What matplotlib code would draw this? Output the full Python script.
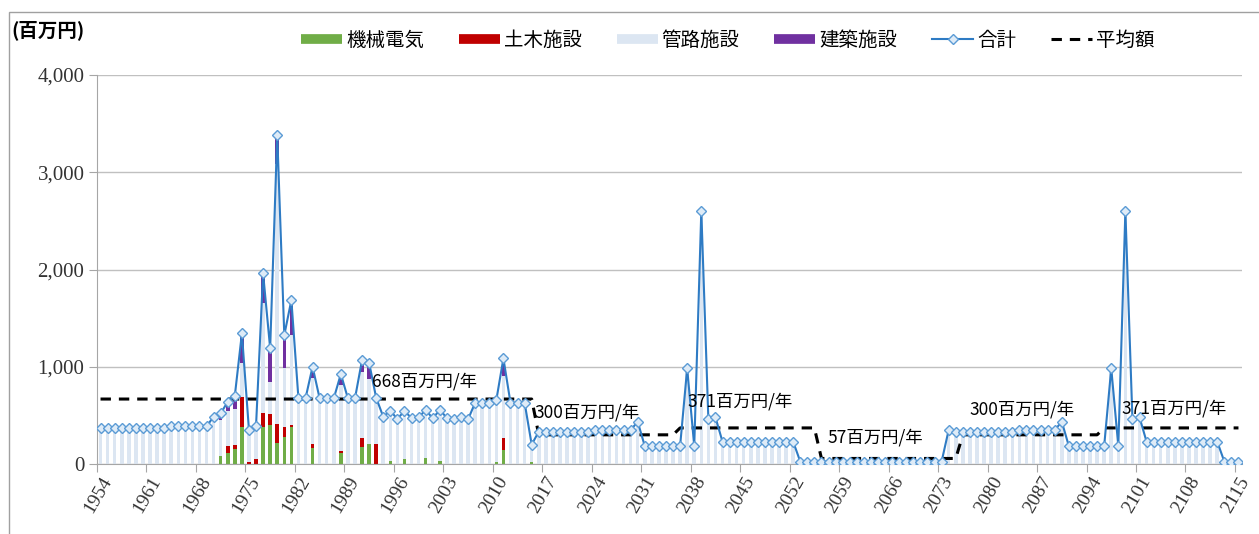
import matplotlib
matplotlib.use("Agg")
import matplotlib.pyplot as plt
import numpy as np
from matplotlib.lines import Line2D
from matplotlib.patches import Rectangle

plt.rcParams['font.family'] = ['Noto Sans CJK JP', 'DejaVu Sans']

years = np.arange(1954, 2116)

# 合計 (百万円)
total = ([373] * 10 + [388] * 6 +
         [486, 521, 640, 702, 1343, 349, 390, 1960, 1189, 3381, 1326, 1686,   # 1970-1981
          675, 675, 1000, 675, 675, 675, 925, 675, 675, 1069, 1041, 680,      # 1982-1993
          486, 548, 462, 548, 470, 480, 555, 470, 555, 475, 459, 480, 459,    # 1994-2006
          630, 630, 630, 658, 1086, 630, 630, 630, 200] +                     # 2007-2015
         [332] * 8 + [348] * 6 + [435] + [185] * 6 + [983, 185, 2600, 459, 480] +
         [229] * 11 + [25] * 21 + [350] + [332] * 9 + [348] * 6 + [435] +
         [185] * 6 + [983, 185, 2600, 459, 480] + [229] * 11 + [25] * 3)

mech = {1971: 80, 1972: 110, 1973: 150, 1974: 383, 1977: 383, 1978: 400,
        1979: 220, 1980: 281, 1981: 383, 1984: 160, 1988: 116, 1991: 171,
        1992: 202, 1995: 35, 1997: 48, 2000: 58, 2002: 35, 2010: 25,
        2011: 140, 2015: 20}
civil = {1972: 75, 1973: 45, 1974: 309, 1975: 20, 1976: 55, 1977: 144,
         1978: 111, 1979: 190, 1980: 102, 1981: 20, 1984: 45, 1988: 18,
         1991: 99, 1993: 202, 2011: 130}
building = {1971: 70, 1972: 100, 1973: 140, 1974: 300, 1977: 300, 1978: 343,
            1979: 300, 1980: 340, 1981: 360, 1984: 120, 1988: 115, 1991: 124,
            1992: 164, 2011: 186}

# 平均額 per period
avg_levels = [668, 300, 371, 57, 300, 371]
avg_starts = [1954, 2016, 2036, 2056, 2076, 2096]
avg_ends = [2015, 2035, 2055, 2075, 2095, 2115]
avg_text = [f"{v}百万円/年" for v in avg_levels]
avg_text_pos = [(38.4, 853), (61.4, 534), (83.1, 647), (102.9, 277), (123.0, 565), (144.5, 575)]


def by_year(d):
    return np.array([d.get(y, 0) for y in years], dtype=float)


total = np.array(total, dtype=float)
m = by_year(mech)
c = by_year(civil)
b = by_year(building)
pipe = total - m - c - b

avg = np.zeros(len(years))
for lv, s, e in zip(avg_levels, avg_starts, avg_ends):
    avg[(years >= s) & (years <= e)] = lv

W, H = 1259, 534
fig = plt.figure(figsize=(W / 100, H / 100), dpi=100)
ax = fig.add_axes([97 / W, 1 - 464 / H, (1242 - 97) / W, (464 - 75) / H])

x = np.arange(len(years))
bw = 0.5
ax.bar(x, m, width=bw, color='#70ad47', zorder=2)
ax.bar(x, c, width=bw, bottom=m, color='#c00000', zorder=2)
ax.bar(x, pipe, width=bw, bottom=m + c, color='#dce6f2', zorder=2)
ax.bar(x, b, width=bw, bottom=m + c + pipe, color='#7030a0', zorder=2)

ax.plot(x, avg, color='black', lw=2.2, dashes=(3.4, 2.6), zorder=3)
ax.plot(x, total, color='#2e7bc4', lw=1.5, marker='D', ms=4.6,
        mfc='#deebf7', mec='#5b9bd5', mew=1, zorder=4)

for txt, (tx, ty) in zip(avg_text, avg_text_pos):
    ax.text(tx, ty, txt, fontsize=12.5, ha='left', va='center', color='black', zorder=5)

ax.set_xlim(-0.5, len(years) - 0.5)
ax.set_ylim(0, 4000)
ax.set_yticks([0, 1000, 2000, 3000, 4000])
ax.set_yticklabels([f"{v:,}" for v in [0, 1000, 2000, 3000, 4000]],
                   family='Liberation Serif', fontsize=15, color='#333333')
ax.yaxis.grid(True, color='#c0c0c0', lw=1)
ax.set_axisbelow(True)

lab_idx = np.arange(0, len(years), 7)
ax.set_xticks(lab_idx - 0.5)
ax.set_xticklabels([])
ax.set_xticks(lab_idx, minor=True)
ax.set_xticklabels([str(years[i]) for i in lab_idx], minor=True, rotation=60,
                   ha='right', va='top', rotation_mode='anchor',
                   family='Liberation Serif', fontsize=14, color='#333333')
ax.tick_params(axis='x', which='major', length=6, color='#a6a6a6')
ax.tick_params(axis='x', which='minor', length=0, pad=7)
ax.tick_params(axis='y', length=6, color='#a6a6a6', pad=3)

for s in ['top', 'right']:
    ax.spines[s].set_visible(False)
for s in ['left', 'bottom']:
    ax.spines[s].set_color('#a6a6a6')

handles = [
    Line2D([0], [0], color='#70ad47', lw=7, solid_capstyle='butt'),
    Line2D([0], [0], color='#c00000', lw=7, solid_capstyle='butt'),
    Line2D([0], [0], color='#dce6f2', lw=7, solid_capstyle='butt'),
    Line2D([0], [0], color='#7030a0', lw=7, solid_capstyle='butt'),
    Line2D([0], [0], color='#2e7bc4', lw=1.5, marker='D', ms=4.6,
           mfc='#deebf7', mec='#5b9bd5', mew=1),
    Line2D([0], [0], color='black', lw=2.2, dashes=(3.4, 2.6)),
]
labels = ['機械電気', '土木施設', '管路施設', '建築施設', '合計', '平均額']
fig.legend(handles, labels, loc='center', bbox_to_anchor=(0.578, 0.925), ncol=6,
           frameon=False, fontsize=14, handlelength=2.1, handletextpad=0.2,
           columnspacing=1.8)

fig.text(11 / W, 1 - 30 / H, '(百万円)', fontsize=14, fontweight='bold',
         ha='left', va='center')

fig.patches.append(Rectangle((9 / W, -0.05), 1.1, 1 - 12 / H + 0.05,
                             transform=fig.transFigure, fill=False,
                             ec='#a0a0a0', lw=1))

fig.savefig('out.png', dpi=100)
